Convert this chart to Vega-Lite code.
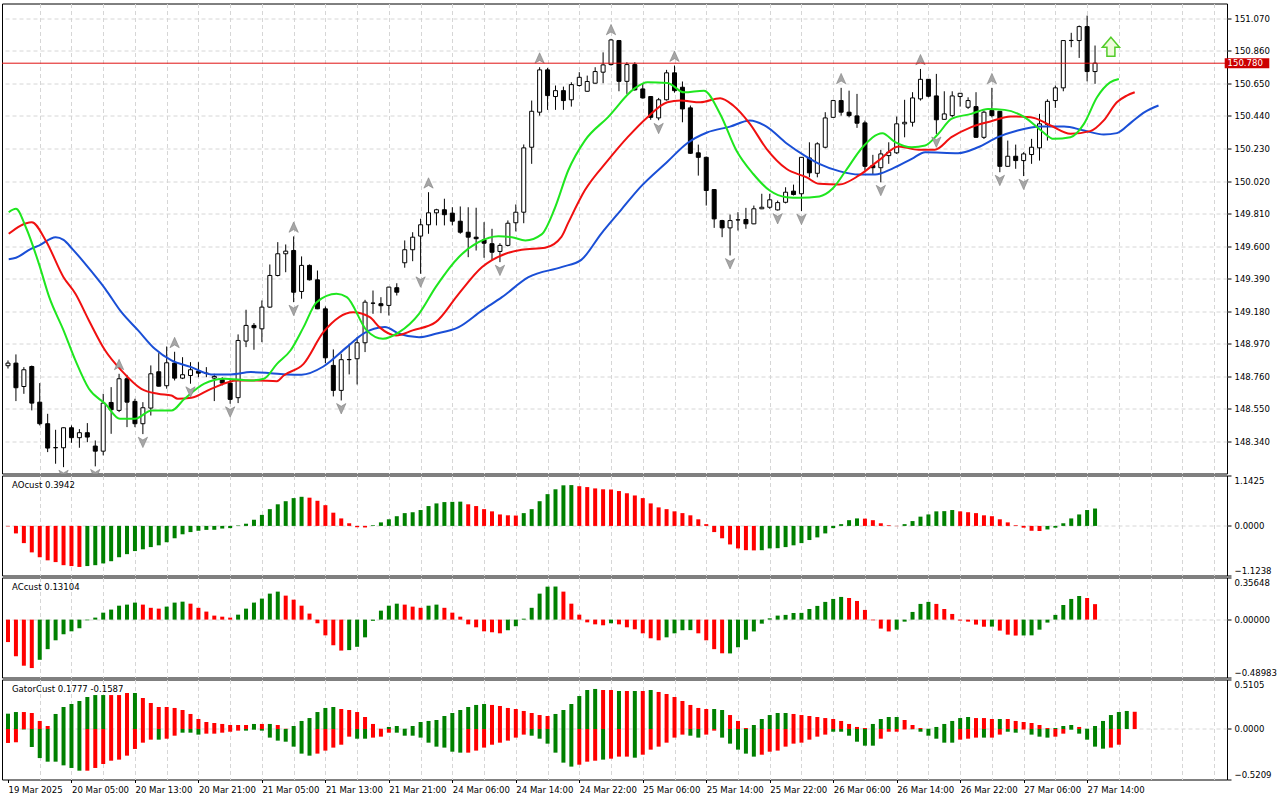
{
  "$schema": "https://vega.github.io/schema/vega-lite/v6.json",
  "background": "white",
  "padding": {"left": 1, "top": 2.5, "right": 0, "bottom": 0},
  "spacing": 0,
  "datasets": {
    "candles": [
      {"i":0,"o":148.829,"h":148.863,"l":148.811,"c":148.846},
      {"i":1,"o":148.846,"h":148.902,"l":148.601,"c":148.687},
      {"i":2,"o":148.695,"h":148.820,"l":148.648,"c":148.803},
      {"i":3,"o":148.824,"h":148.830,"l":148.541,"c":148.588},
      {"i":4,"o":148.594,"h":148.717,"l":148.444,"c":148.455},
      {"i":5,"o":148.455,"h":148.519,"l":148.272,"c":148.298},
      {"i":6,"o":148.301,"h":148.416,"l":148.197,"c":148.300},
      {"i":7,"o":148.300,"h":148.431,"l":148.175,"c":148.429},
      {"i":8,"o":148.429,"h":148.444,"l":148.332,"c":148.365},
      {"i":9,"o":148.365,"h":148.420,"l":148.300,"c":148.397},
      {"i":10,"o":148.397,"h":148.459,"l":148.336,"c":148.369},
      {"i":11,"o":148.311,"h":148.347,"l":148.180,"c":148.278},
      {"i":12,"o":148.278,"h":148.648,"l":148.251,"c":148.588},
      {"i":13,"o":148.592,"h":148.691,"l":148.390,"c":148.545},
      {"i":14,"o":148.541,"h":148.777,"l":148.530,"c":148.745},
      {"i":15,"o":148.745,"h":148.770,"l":148.433,"c":148.594},
      {"i":16,"o":148.599,"h":148.616,"l":148.433,"c":148.455},
      {"i":17,"o":148.455,"h":148.594,"l":148.388,"c":148.558},
      {"i":18,"o":148.556,"h":148.831,"l":148.508,"c":148.777},
      {"i":19,"o":148.790,"h":148.910,"l":148.695,"c":148.697},
      {"i":20,"o":148.700,"h":148.953,"l":148.681,"c":148.848},
      {"i":21,"o":148.846,"h":148.919,"l":148.734,"c":148.749},
      {"i":22,"o":148.749,"h":148.884,"l":148.743,"c":148.771},
      {"i":23,"o":148.766,"h":148.852,"l":148.713,"c":148.803},
      {"i":24,"o":148.794,"h":148.852,"l":148.755,"c":148.781},
      {"i":25,"o":148.781,"h":148.820,"l":148.755,"c":148.780},
      {"i":26,"o":148.749,"h":148.777,"l":148.601,"c":148.760},
      {"i":27,"o":148.739,"h":148.755,"l":148.702,"c":148.717},
      {"i":28,"o":148.717,"h":148.739,"l":148.584,"c":148.612},
      {"i":29,"o":148.623,"h":149.031,"l":148.588,"c":148.992},
      {"i":30,"o":148.988,"h":149.190,"l":148.949,"c":149.089},
      {"i":31,"o":149.089,"h":149.104,"l":148.932,"c":149.074},
      {"i":32,"o":149.067,"h":149.250,"l":148.981,"c":149.207},
      {"i":33,"o":149.207,"h":149.482,"l":149.203,"c":149.411},
      {"i":34,"o":149.411,"h":149.626,"l":149.405,"c":149.551},
      {"i":35,"o":149.551,"h":149.611,"l":149.432,"c":149.568},
      {"i":36,"o":149.572,"h":149.663,"l":149.239,"c":149.303},
      {"i":37,"o":149.308,"h":149.534,"l":149.261,"c":149.476},
      {"i":38,"o":149.476,"h":149.482,"l":149.379,"c":149.383},
      {"i":39,"o":149.383,"h":149.443,"l":149.194,"c":149.196},
      {"i":40,"o":149.196,"h":149.211,"l":148.846,"c":148.880},
      {"i":41,"o":148.831,"h":148.934,"l":148.631,"c":148.670},
      {"i":42,"o":148.670,"h":148.906,"l":148.605,"c":148.868},
      {"i":43,"o":148.868,"h":148.971,"l":148.773,"c":148.869},
      {"i":44,"o":148.874,"h":149.013,"l":148.708,"c":148.977},
      {"i":45,"o":148.977,"h":149.254,"l":148.917,"c":149.239},
      {"i":46,"o":149.233,"h":149.314,"l":149.164,"c":149.232},
      {"i":47,"o":149.229,"h":149.271,"l":149.168,"c":149.216},
      {"i":48,"o":149.218,"h":149.338,"l":149.153,"c":149.336},
      {"i":49,"o":149.332,"h":149.361,"l":149.282,"c":149.303},
      {"i":50,"o":149.493,"h":149.637,"l":149.461,"c":149.577},
      {"i":51,"o":149.577,"h":149.690,"l":149.503,"c":149.658},
      {"i":52,"o":149.665,"h":149.777,"l":149.422,"c":149.738},
      {"i":53,"o":149.738,"h":149.948,"l":149.680,"c":149.815},
      {"i":54,"o":149.815,"h":149.841,"l":149.734,"c":149.835},
      {"i":55,"o":149.835,"h":149.906,"l":149.734,"c":149.803},
      {"i":56,"o":149.813,"h":149.851,"l":149.734,"c":149.761},
      {"i":57,"o":149.761,"h":149.856,"l":149.680,"c":149.690},
      {"i":58,"o":149.690,"h":149.851,"l":149.529,"c":149.658},
      {"i":59,"o":149.658,"h":149.848,"l":149.572,"c":149.648},
      {"i":60,"o":149.641,"h":149.755,"l":149.525,"c":149.619},
      {"i":61,"o":149.616,"h":149.712,"l":149.508,"c":149.561},
      {"i":62,"o":149.566,"h":149.619,"l":149.497,"c":149.605},
      {"i":63,"o":149.605,"h":149.766,"l":149.598,"c":149.748},
      {"i":64,"o":149.751,"h":149.869,"l":149.695,"c":149.819},
      {"i":65,"o":149.819,"h":150.256,"l":149.748,"c":150.234},
      {"i":66,"o":150.238,"h":150.539,"l":150.131,"c":150.470},
      {"i":67,"o":150.464,"h":150.754,"l":150.442,"c":150.737},
      {"i":68,"o":150.737,"h":150.750,"l":150.479,"c":150.571},
      {"i":69,"o":150.565,"h":150.636,"l":150.479,"c":150.603},
      {"i":70,"o":150.603,"h":150.629,"l":150.479,"c":150.539},
      {"i":71,"o":150.544,"h":150.657,"l":150.500,"c":150.642},
      {"i":72,"o":150.636,"h":150.722,"l":150.629,"c":150.689},
      {"i":73,"o":150.599,"h":150.700,"l":150.597,"c":150.662},
      {"i":74,"o":150.651,"h":150.754,"l":150.649,"c":150.726},
      {"i":75,"o":150.722,"h":150.850,"l":150.651,"c":150.769},
      {"i":76,"o":150.771,"h":150.937,"l":150.765,"c":150.930},
      {"i":77,"o":150.926,"h":150.930,"l":150.599,"c":150.663},
      {"i":78,"o":150.663,"h":150.786,"l":150.582,"c":150.771},
      {"i":79,"o":150.771,"h":150.786,"l":150.603,"c":150.608},
      {"i":80,"o":150.614,"h":150.647,"l":150.552,"c":150.556},
      {"i":81,"o":150.565,"h":150.567,"l":150.415,"c":150.431},
      {"i":82,"o":150.427,"h":150.556,"l":150.412,"c":150.544},
      {"i":83,"o":150.544,"h":150.737,"l":150.539,"c":150.718},
      {"i":84,"o":150.718,"h":150.765,"l":150.590,"c":150.603},
      {"i":85,"o":150.625,"h":150.662,"l":150.399,"c":150.485},
      {"i":86,"o":150.492,"h":150.507,"l":150.195,"c":150.199},
      {"i":87,"o":150.202,"h":150.255,"l":150.055,"c":150.173},
      {"i":88,"o":150.173,"h":150.178,"l":149.862,"c":149.959},
      {"i":89,"o":149.965,"h":149.967,"l":149.718,"c":149.776},
      {"i":90,"o":149.765,"h":149.770,"l":149.658,"c":149.718},
      {"i":91,"o":149.718,"h":149.804,"l":149.540,"c":149.765},
      {"i":92,"o":149.770,"h":149.819,"l":149.701,"c":149.769},
      {"i":93,"o":149.772,"h":149.847,"l":149.712,"c":149.744},
      {"i":94,"o":149.744,"h":149.862,"l":149.742,"c":149.841},
      {"i":95,"o":149.841,"h":149.938,"l":149.839,"c":149.851},
      {"i":96,"o":149.851,"h":149.938,"l":149.841,"c":149.899},
      {"i":97,"o":149.834,"h":149.894,"l":149.830,"c":149.881},
      {"i":98,"o":149.883,"h":149.980,"l":149.876,"c":149.948},
      {"i":99,"o":149.955,"h":149.997,"l":149.927,"c":149.933},
      {"i":100,"o":149.938,"h":150.175,"l":149.826,"c":150.173},
      {"i":101,"o":150.169,"h":150.270,"l":150.044,"c":150.073},
      {"i":102,"o":150.070,"h":150.270,"l":150.044,"c":150.260},
      {"i":103,"o":150.238,"h":150.464,"l":150.231,"c":150.427},
      {"i":104,"o":150.431,"h":150.544,"l":150.427,"c":150.539},
      {"i":105,"o":150.539,"h":150.621,"l":150.442,"c":150.464},
      {"i":106,"o":150.464,"h":150.603,"l":150.431,"c":150.442},
      {"i":107,"o":150.440,"h":150.582,"l":150.363,"c":150.393},
      {"i":108,"o":150.395,"h":150.410,"l":150.088,"c":150.115},
      {"i":109,"o":150.120,"h":150.189,"l":150.062,"c":150.106},
      {"i":110,"o":150.106,"h":150.221,"l":150.012,"c":150.195},
      {"i":111,"o":150.184,"h":150.270,"l":150.131,"c":150.206},
      {"i":112,"o":150.202,"h":150.436,"l":150.195,"c":150.389},
      {"i":113,"o":150.389,"h":150.544,"l":150.302,"c":150.399},
      {"i":114,"o":150.399,"h":150.593,"l":150.371,"c":150.556},
      {"i":115,"o":150.550,"h":150.743,"l":150.539,"c":150.676},
      {"i":116,"o":150.676,"h":150.678,"l":150.560,"c":150.567},
      {"i":117,"o":150.569,"h":150.711,"l":150.324,"c":150.415},
      {"i":118,"o":150.418,"h":150.599,"l":150.416,"c":150.453},
      {"i":119,"o":150.442,"h":150.599,"l":150.431,"c":150.569},
      {"i":120,"o":150.565,"h":150.588,"l":150.500,"c":150.586},
      {"i":121,"o":150.496,"h":150.560,"l":150.485,"c":150.539},
      {"i":122,"o":150.500,"h":150.593,"l":150.300,"c":150.302},
      {"i":123,"o":150.302,"h":150.475,"l":150.291,"c":150.464},
      {"i":124,"o":150.475,"h":150.621,"l":150.431,"c":150.442},
      {"i":125,"o":150.470,"h":150.472,"l":150.077,"c":150.115},
      {"i":126,"o":150.115,"h":150.281,"l":150.113,"c":150.180},
      {"i":127,"o":150.180,"h":150.255,"l":150.099,"c":150.152},
      {"i":128,"o":150.152,"h":150.206,"l":150.052,"c":150.195},
      {"i":129,"o":150.191,"h":150.292,"l":150.131,"c":150.238},
      {"i":130,"o":150.234,"h":150.453,"l":150.152,"c":150.389},
      {"i":131,"o":150.384,"h":150.547,"l":150.281,"c":150.534},
      {"i":132,"o":150.539,"h":150.636,"l":150.492,"c":150.621},
      {"i":133,"o":150.621,"h":150.928,"l":150.599,"c":150.926},
      {"i":134,"o":150.926,"h":150.976,"l":150.883,"c":150.927},
      {"i":135,"o":150.926,"h":151.023,"l":150.814,"c":151.016},
      {"i":136,"o":151.016,"h":151.087,"l":150.663,"c":150.726},
      {"i":137,"o":150.726,"h":150.894,"l":150.647,"c":150.780}
    ],
    "alligator": [
      {"s":"jaw","i":0.09,"v":149.516},{"s":"jaw","i":1,"v":149.525},{"s":"jaw","i":2.9,"v":149.583},{"s":"jaw","i":3.9,"v":149.604},
      {"s":"jaw","i":6,"v":149.658},{"s":"jaw","i":7,"v":149.641},{"s":"jaw","i":8.1,"v":149.583},{"s":"jaw","i":10.6,"v":149.432},
      {"s":"jaw","i":12.25,"v":149.325},{"s":"jaw","i":14.3,"v":149.174},{"s":"jaw","i":16.4,"v":149.057},{"s":"jaw","i":18.5,"v":148.938},
      {"s":"jaw","i":20.6,"v":148.863},{"s":"jaw","i":23.1,"v":148.820},{"s":"jaw","i":25.6,"v":148.773},{"s":"jaw","i":28.1,"v":148.773},
      {"s":"jaw","i":30.6,"v":148.788},{"s":"jaw","i":33.1,"v":148.781},{"s":"jaw","i":35.2,"v":148.773},{"s":"jaw","i":37,"v":148.771},
      {"s":"jaw","i":39.75,"v":148.824},{"s":"jaw","i":42.7,"v":148.949},{"s":"jaw","i":44.75,"v":149.035},{"s":"jaw","i":47.5,"v":149.078},
      {"s":"jaw","i":49.3,"v":149.035},{"s":"jaw","i":51.8,"v":149.013},{"s":"jaw","i":53.9,"v":149.035},{"s":"jaw","i":56.8,"v":149.078},
      {"s":"jaw","i":59.75,"v":149.186},{"s":"jaw","i":62.25,"v":149.271},{"s":"jaw","i":65.6,"v":149.400},{"s":"jaw","i":69.75,"v":149.465},
      {"s":"jaw","i":72.25,"v":149.512},{"s":"jaw","i":74.75,"v":149.680},{"s":"jaw","i":77.25,"v":149.833},{"s":"jaw","i":79.75,"v":149.984},
      {"s":"jaw","i":83.1,"v":150.145},{"s":"jaw","i":85.6,"v":150.264},{"s":"jaw","i":88.1,"v":150.333},{"s":"jaw","i":91,"v":150.371},
      {"s":"jaw","i":93.5,"v":150.410},{"s":"jaw","i":95.6,"v":150.371},{"s":"jaw","i":98.1,"v":150.264},{"s":"jaw","i":100.6,"v":150.178},
      {"s":"jaw","i":102.25,"v":150.131},{"s":"jaw","i":104.75,"v":150.084},{"s":"jaw","i":107.25,"v":150.062},{"s":"jaw","i":109.3,"v":150.062},
      {"s":"jaw","i":111.4,"v":150.099},{"s":"jaw","i":113.9,"v":150.163},{"s":"jaw","i":115.6,"v":150.206},{"s":"jaw","i":119.75,"v":150.200},
      {"s":"jaw","i":122.25,"v":150.238},{"s":"jaw","i":124.75,"v":150.303},{"s":"jaw","i":127.25,"v":150.346},{"s":"jaw","i":130.2,"v":150.372},
      {"s":"jaw","i":133.1,"v":150.372},{"s":"jaw","i":135.6,"v":150.346},{"s":"jaw","i":138.1,"v":150.320},{"s":"jaw","i":139.75,"v":150.329},
      {"s":"jaw","i":141.6,"v":150.400},{"s":"jaw","i":143.25,"v":150.464},{"s":"jaw","i":145,"v":150.507},
      {"s":"teeth","i":0.09,"v":149.680},{"s":"teeth","i":3,"v":149.755},{"s":"teeth","i":4.75,"v":149.637},{"s":"teeth","i":7,"v":149.400},
      {"s":"teeth","i":8.5,"v":149.293},{"s":"teeth","i":10.2,"v":149.121},{"s":"teeth","i":12.25,"v":148.927},{"s":"teeth","i":14.3,"v":148.798},
      {"s":"teeth","i":16.8,"v":148.680},{"s":"teeth","i":18.9,"v":148.648},{"s":"teeth","i":20.6,"v":148.637},{"s":"teeth","i":21.4,"v":148.616},
      {"s":"teeth","i":23.1,"v":148.622},{"s":"teeth","i":25.6,"v":148.680},{"s":"teeth","i":28.9,"v":148.734},{"s":"teeth","i":31.4,"v":148.734},
      {"s":"teeth","i":33.9,"v":148.729},{"s":"teeth","i":34.75,"v":148.766},{"s":"teeth","i":37.25,"v":148.841},{"s":"teeth","i":39.75,"v":149.045},
      {"s":"teeth","i":43.5,"v":149.174},{"s":"teeth","i":45.6,"v":149.142},{"s":"teeth","i":46.8,"v":149.078},{"s":"teeth","i":48.9,"v":149.024},
      {"s":"teeth","i":51,"v":149.057},{"s":"teeth","i":53.9,"v":149.110},{"s":"teeth","i":56.8,"v":149.293},{"s":"teeth","i":59.75,"v":149.465},
      {"s":"teeth","i":62.7,"v":149.551},{"s":"teeth","i":64.75,"v":149.577},{"s":"teeth","i":67.7,"v":149.590},{"s":"teeth","i":69.75,"v":149.660},
      {"s":"teeth","i":70.6,"v":149.750},{"s":"teeth","i":72.7,"v":149.960},{"s":"teeth","i":75.6,"v":150.153},{"s":"teeth","i":78.1,"v":150.303},
      {"s":"teeth","i":80.6,"v":150.432},{"s":"teeth","i":83.1,"v":150.528},{"s":"teeth","i":84.75,"v":150.539},{"s":"teeth","i":87.25,"v":150.528},
      {"s":"teeth","i":89.75,"v":150.554},{"s":"teeth","i":91.4,"v":150.507},{"s":"teeth","i":93.5,"v":150.389},{"s":"teeth","i":95.6,"v":150.228},
      {"s":"teeth","i":98.1,"v":150.099},{"s":"teeth","i":100.6,"v":150.045},{"s":"teeth","i":102.25,"v":150.002},{"s":"teeth","i":104.75,"v":149.998},
      {"s":"teeth","i":107.25,"v":150.056},{"s":"teeth","i":109.75,"v":150.153},{"s":"teeth","i":112.25,"v":150.243},{"s":"teeth","i":114.75,"v":150.222},
      {"s":"teeth","i":116.8,"v":150.222},{"s":"teeth","i":118.9,"v":150.303},{"s":"teeth","i":121.4,"v":150.368},{"s":"teeth","i":123.9,"v":150.406},
      {"s":"teeth","i":126.4,"v":150.436},{"s":"teeth","i":128.9,"v":150.432},{"s":"teeth","i":131.4,"v":150.378},{"s":"teeth","i":133.9,"v":150.325},
      {"s":"teeth","i":136.4,"v":150.342},{"s":"teeth","i":138.1,"v":150.411},{"s":"teeth","i":139.75,"v":150.528},{"s":"teeth","i":141,"v":150.571},
      {"s":"teeth","i":142,"v":150.593},
      {"s":"lips","i":0.09,"v":149.819},{"s":"lips","i":1,"v":149.841},{"s":"lips","i":2.25,"v":149.722},{"s":"lips","i":3.9,"v":149.486},
      {"s":"lips","i":5.2,"v":149.271},{"s":"lips","i":7,"v":149.057},{"s":"lips","i":8.5,"v":148.863},{"s":"lips","i":10.2,"v":148.680},
      {"s":"lips","i":12.25,"v":148.584},{"s":"lips","i":14.1,"v":148.487},{"s":"lips","i":16,"v":148.487},{"s":"lips","i":18.1,"v":148.540},
      {"s":"lips","i":20.6,"v":148.540},{"s":"lips","i":22.25,"v":148.616},{"s":"lips","i":24.75,"v":148.713},{"s":"lips","i":27.25,"v":148.745},
      {"s":"lips","i":30.6,"v":148.734},{"s":"lips","i":32.25,"v":148.745},{"s":"lips","i":33.9,"v":148.841},{"s":"lips","i":35.6,"v":148.927},
      {"s":"lips","i":37.25,"v":149.078},{"s":"lips","i":38.9,"v":149.239},{"s":"lips","i":41.4,"v":149.293},{"s":"lips","i":42.7,"v":149.271},
      {"s":"lips","i":45.2,"v":149.057},{"s":"lips","i":47.25,"v":149.003},{"s":"lips","i":49.3,"v":149.046},{"s":"lips","i":51.8,"v":149.164},
      {"s":"lips","i":53.9,"v":149.336},{"s":"lips","i":56.8,"v":149.529},{"s":"lips","i":59.3,"v":149.626},{"s":"lips","i":61.8,"v":149.664},
      {"s":"lips","i":63.5,"v":149.658},{"s":"lips","i":65.2,"v":149.637},{"s":"lips","i":67.25,"v":149.676},{"s":"lips","i":68.9,"v":149.843},
      {"s":"lips","i":70.6,"v":150.088},{"s":"lips","i":72.7,"v":150.281},{"s":"lips","i":75.6,"v":150.431},{"s":"lips","i":78.9,"v":150.614},
      {"s":"lips","i":80.6,"v":150.657},{"s":"lips","i":83.1,"v":150.653},{"s":"lips","i":85.2,"v":150.592},{"s":"lips","i":87.7,"v":150.603},
      {"s":"lips","i":89.75,"v":150.453},{"s":"lips","i":91.8,"v":150.217},{"s":"lips","i":93.9,"v":150.067},{"s":"lips","i":96,"v":149.959},
      {"s":"lips","i":98.1,"v":149.916},{"s":"lips","i":99.75,"v":149.912},{"s":"lips","i":102.25,"v":149.921},{"s":"lips","i":103.9,"v":149.970},
      {"s":"lips","i":105.6,"v":150.088},{"s":"lips","i":107.7,"v":150.238},{"s":"lips","i":110.2,"v":150.329},{"s":"lips","i":111.8,"v":150.271},
      {"s":"lips","i":113.9,"v":150.238},{"s":"lips","i":115.6,"v":150.249},{"s":"lips","i":117.25,"v":150.325},{"s":"lips","i":118.9,"v":150.421},
      {"s":"lips","i":121.4,"v":150.453},{"s":"lips","i":123.5,"v":150.485},{"s":"lips","i":125.6,"v":150.479},{"s":"lips","i":128.1,"v":150.432},
      {"s":"lips","i":130.2,"v":150.346},{"s":"lips","i":131.8,"v":150.292},{"s":"lips","i":133.9,"v":150.303},{"s":"lips","i":135.6,"v":150.389},
      {"s":"lips","i":137.25,"v":150.560},{"s":"lips","i":138.9,"v":150.656},{"s":"lips","i":140,"v":150.678}
    ],
    "fractals": [
      {"i":14,"p":148.777,"d":"up"},{"i":21,"p":148.919,"d":"up"},{"i":36,"p":149.663,"d":"up"},{"i":53,"p":149.948,"d":"up"},
      {"i":67,"p":150.754,"d":"up"},{"i":76,"p":150.937,"d":"up"},{"i":84,"p":150.765,"d":"up"},{"i":105,"p":150.621,"d":"up"},
      {"i":115,"p":150.743,"d":"up"},{"i":124,"p":150.621,"d":"up"},
      {"i":7,"p":148.175,"d":"down"},{"i":11,"p":148.180,"d":"down"},{"i":17,"p":148.388,"d":"down"},{"i":23,"p":148.713,"d":"down"},
      {"i":28,"p":148.584,"d":"down"},{"i":36,"p":149.239,"d":"down"},{"i":42,"p":148.605,"d":"down"},{"i":52,"p":149.422,"d":"down"},
      {"i":62,"p":149.497,"d":"down"},{"i":82,"p":150.412,"d":"down"},{"i":91,"p":149.540,"d":"down"},{"i":97,"p":149.830,"d":"down"},
      {"i":100,"p":149.826,"d":"down"},{"i":110,"p":150.012,"d":"down"},{"i":117,"p":150.324,"d":"down"},{"i":125,"p":150.077,"d":"down"},
      {"i":128,"p":150.052,"d":"down"}
    ],
    "ao": [
      {"i":0,"v":-0.01,"c":"r"},{"i":1,"v":-0.17,"c":"r"},{"i":2,"v":-0.39,"c":"r"},{"i":3,"v":-0.6,"c":"r"},{"i":4,"v":-0.71,"c":"r"},
      {"i":5,"v":-0.78,"c":"r"},{"i":6,"v":-0.82,"c":"r"},{"i":7,"v":-0.89,"c":"r"},{"i":8,"v":-0.91,"c":"r"},{"i":9,"v":-0.93,"c":"r"},
      {"i":10,"v":-0.91,"c":"g"},{"i":11,"v":-0.89,"c":"g"},{"i":12,"v":-0.85,"c":"g"},{"i":13,"v":-0.8,"c":"g"},{"i":14,"v":-0.71,"c":"g"},
      {"i":15,"v":-0.64,"c":"g"},{"i":16,"v":-0.57,"c":"g"},{"i":17,"v":-0.53,"c":"g"},{"i":18,"v":-0.48,"c":"g"},{"i":19,"v":-0.44,"c":"g"},
      {"i":20,"v":-0.37,"c":"g"},{"i":21,"v":-0.28,"c":"g"},{"i":22,"v":-0.19,"c":"g"},{"i":23,"v":-0.14,"c":"g"},{"i":24,"v":-0.11,"c":"g"},
      {"i":25,"v":-0.09,"c":"g"},{"i":26,"v":-0.088,"c":"g"},{"i":27,"v":-0.06,"c":"g"},{"i":28,"v":-0.05,"c":"g"},{"i":29,"v":0.01,"c":"g"},
      {"i":30,"v":0.05,"c":"g"},{"i":31,"v":0.14,"c":"g"},{"i":32,"v":0.25,"c":"g"},{"i":33,"v":0.38,"c":"g"},{"i":34,"v":0.49,"c":"g"},
      {"i":35,"v":0.56,"c":"g"},{"i":36,"v":0.63,"c":"g"},{"i":37,"v":0.66,"c":"g"},{"i":38,"v":0.64,"c":"r"},{"i":39,"v":0.57,"c":"r"},
      {"i":40,"v":0.47,"c":"r"},{"i":41,"v":0.3,"c":"r"},{"i":42,"v":0.17,"c":"r"},{"i":43,"v":0.06,"c":"r"},{"i":44,"v":-0.03,"c":"r"},
      {"i":45,"v":-0.035,"c":"r"},{"i":46,"v":0.015,"c":"g"},{"i":47,"v":0.08,"c":"g"},{"i":48,"v":0.15,"c":"g"},{"i":49,"v":0.22,"c":"g"},
      {"i":50,"v":0.29,"c":"g"},{"i":51,"v":0.31,"c":"g"},{"i":52,"v":0.36,"c":"g"},{"i":53,"v":0.45,"c":"g"},{"i":54,"v":0.51,"c":"g"},
      {"i":55,"v":0.54,"c":"g"},{"i":56,"v":0.545,"c":"g"},{"i":57,"v":0.55,"c":"g"},{"i":58,"v":0.49,"c":"r"},{"i":59,"v":0.45,"c":"r"},
      {"i":60,"v":0.38,"c":"r"},{"i":61,"v":0.33,"c":"r"},{"i":62,"v":0.26,"c":"r"},{"i":63,"v":0.24,"c":"r"},{"i":64,"v":0.235,"c":"r"},
      {"i":65,"v":0.29,"c":"g"},{"i":66,"v":0.38,"c":"g"},{"i":67,"v":0.56,"c":"g"},{"i":68,"v":0.72,"c":"g"},{"i":69,"v":0.83,"c":"g"},
      {"i":70,"v":0.92,"c":"g"},{"i":71,"v":0.925,"c":"g"},{"i":72,"v":0.9,"c":"r"},{"i":73,"v":0.88,"c":"r"},{"i":74,"v":0.85,"c":"r"},
      {"i":75,"v":0.83,"c":"r"},{"i":76,"v":0.825,"c":"r"},{"i":77,"v":0.79,"c":"r"},{"i":78,"v":0.74,"c":"r"},{"i":79,"v":0.69,"c":"r"},
      {"i":80,"v":0.63,"c":"r"},{"i":81,"v":0.51,"c":"r"},{"i":82,"v":0.42,"c":"r"},{"i":83,"v":0.38,"c":"r"},{"i":84,"v":0.33,"c":"r"},
      {"i":85,"v":0.29,"c":"r"},{"i":86,"v":0.24,"c":"r"},{"i":87,"v":0.15,"c":"r"},{"i":88,"v":0.04,"c":"r"},{"i":89,"v":-0.14,"c":"r"},
      {"i":90,"v":-0.28,"c":"r"},{"i":91,"v":-0.42,"c":"r"},{"i":92,"v":-0.51,"c":"r"},{"i":93,"v":-0.55,"c":"r"},{"i":94,"v":-0.555,"c":"r"},
      {"i":95,"v":-0.55,"c":"g"},{"i":96,"v":-0.51,"c":"g"},{"i":97,"v":-0.505,"c":"g"},{"i":98,"v":-0.48,"c":"g"},{"i":99,"v":-0.44,"c":"g"},
      {"i":100,"v":-0.39,"c":"g"},{"i":101,"v":-0.32,"c":"g"},{"i":102,"v":-0.26,"c":"g"},{"i":103,"v":-0.17,"c":"g"},{"i":104,"v":-0.05,"c":"g"},
      {"i":105,"v":0.04,"c":"g"},{"i":106,"v":0.13,"c":"g"},{"i":107,"v":0.17,"c":"g"},{"i":108,"v":0.165,"c":"r"},{"i":109,"v":0.13,"c":"r"},
      {"i":110,"v":0.06,"c":"r"},{"i":111,"v":0.015,"c":"r"},{"i":112,"v":-0.005,"c":"r"},{"i":113,"v":0.04,"c":"g"},{"i":114,"v":0.11,"c":"g"},
      {"i":115,"v":0.21,"c":"g"},{"i":116,"v":0.26,"c":"g"},{"i":117,"v":0.33,"c":"g"},{"i":118,"v":0.335,"c":"g"},{"i":119,"v":0.36,"c":"g"},
      {"i":120,"v":0.33,"c":"r"},{"i":121,"v":0.31,"c":"r"},{"i":122,"v":0.29,"c":"r"},{"i":123,"v":0.24,"c":"r"},{"i":124,"v":0.22,"c":"r"},
      {"i":125,"v":0.15,"c":"r"},{"i":126,"v":0.08,"c":"r"},{"i":127,"v":0.015,"c":"r"},{"i":128,"v":-0.04,"c":"r"},{"i":129,"v":-0.11,"c":"r"},
      {"i":130,"v":-0.115,"c":"r"},{"i":131,"v":-0.08,"c":"g"},{"i":132,"v":-0.04,"c":"g"},{"i":133,"v":0.06,"c":"g"},{"i":134,"v":0.17,"c":"g"},
      {"i":135,"v":0.26,"c":"g"},{"i":136,"v":0.36,"c":"g"},{"i":137,"v":0.3942,"c":"g"}
    ],
    "ac": [
      {"i":0,"v":-0.19,"c":"r"},{"i":1,"v":-0.31,"c":"r"},{"i":2,"v":-0.39,"c":"r"},{"i":3,"v":-0.41,"c":"r"},{"i":4,"v":-0.34,"c":"g"},
      {"i":5,"v":-0.25,"c":"g"},{"i":6,"v":-0.175,"c":"g"},{"i":7,"v":-0.124,"c":"g"},{"i":8,"v":-0.099,"c":"g"},{"i":9,"v":-0.073,"c":"g"},
      {"i":10,"v":-0.006,"c":"g"},{"i":11,"v":0.017,"c":"g"},{"i":12,"v":0.059,"c":"g"},{"i":13,"v":0.085,"c":"g"},{"i":14,"v":0.118,"c":"g"},
      {"i":15,"v":0.127,"c":"g"},{"i":16,"v":0.144,"c":"g"},{"i":17,"v":0.127,"c":"r"},{"i":18,"v":0.1,"c":"r"},{"i":19,"v":0.093,"c":"r"},
      {"i":20,"v":0.11,"c":"g"},{"i":21,"v":0.144,"c":"g"},{"i":22,"v":0.152,"c":"g"},{"i":23,"v":0.135,"c":"r"},{"i":24,"v":0.1,"c":"r"},
      {"i":25,"v":0.068,"c":"r"},{"i":26,"v":0.034,"c":"r"},{"i":27,"v":0.025,"c":"r"},{"i":28,"v":0.017,"c":"r"},{"i":29,"v":0.042,"c":"g"},
      {"i":30,"v":0.093,"c":"g"},{"i":31,"v":0.144,"c":"g"},{"i":32,"v":0.178,"c":"g"},{"i":33,"v":0.22,"c":"g"},{"i":34,"v":0.237,"c":"g"},
      {"i":35,"v":0.203,"c":"r"},{"i":36,"v":0.169,"c":"r"},{"i":37,"v":0.118,"c":"r"},{"i":38,"v":0.051,"c":"r"},{"i":39,"v":-0.031,"c":"r"},
      {"i":40,"v":-0.133,"c":"r"},{"i":41,"v":-0.217,"c":"r"},{"i":42,"v":-0.262,"c":"r"},{"i":43,"v":-0.258,"c":"g"},{"i":44,"v":-0.23,"c":"g"},
      {"i":45,"v":-0.15,"c":"g"},{"i":46,"v":-0.01,"c":"g"},{"i":47,"v":0.076,"c":"g"},{"i":48,"v":0.118,"c":"g"},{"i":49,"v":0.135,"c":"g"},
      {"i":50,"v":0.127,"c":"r"},{"i":51,"v":0.11,"c":"r"},{"i":52,"v":0.1,"c":"r"},{"i":53,"v":0.118,"c":"g"},{"i":54,"v":0.127,"c":"g"},
      {"i":55,"v":0.1,"c":"r"},{"i":56,"v":0.059,"c":"r"},{"i":57,"v":0.025,"c":"r"},{"i":58,"v":-0.04,"c":"r"},{"i":59,"v":-0.065,"c":"r"},
      {"i":60,"v":-0.099,"c":"r"},{"i":61,"v":-0.107,"c":"r"},{"i":62,"v":-0.116,"c":"r"},{"i":63,"v":-0.09,"c":"g"},{"i":64,"v":-0.056,"c":"g"},
      {"i":65,"v":0.008,"c":"g"},{"i":66,"v":0.1,"c":"g"},{"i":67,"v":0.22,"c":"g"},{"i":68,"v":0.279,"c":"g"},{"i":69,"v":0.28,"c":"g"},
      {"i":70,"v":0.237,"c":"r"},{"i":71,"v":0.135,"c":"r"},{"i":72,"v":0.042,"c":"r"},{"i":73,"v":-0.023,"c":"r"},{"i":74,"v":-0.04,"c":"r"},
      {"i":75,"v":-0.048,"c":"r"},{"i":76,"v":-0.031,"c":"g"},{"i":77,"v":-0.04,"c":"r"},{"i":78,"v":-0.065,"c":"r"},{"i":79,"v":-0.082,"c":"r"},
      {"i":80,"v":-0.116,"c":"r"},{"i":81,"v":-0.158,"c":"r"},{"i":82,"v":-0.175,"c":"r"},{"i":83,"v":-0.15,"c":"g"},{"i":84,"v":-0.116,"c":"g"},
      {"i":85,"v":-0.09,"c":"g"},{"i":86,"v":-0.089,"c":"g"},{"i":87,"v":-0.116,"c":"r"},{"i":88,"v":-0.175,"c":"r"},{"i":89,"v":-0.25,"c":"r"},
      {"i":90,"v":-0.285,"c":"r"},{"i":91,"v":-0.286,"c":"g"},{"i":92,"v":-0.234,"c":"g"},{"i":93,"v":-0.17,"c":"g"},{"i":94,"v":-0.1,"c":"g"},
      {"i":95,"v":-0.034,"c":"g"},{"i":96,"v":0.011,"c":"g"},{"i":97,"v":0.034,"c":"g"},{"i":98,"v":0.04,"c":"g"},{"i":99,"v":0.056,"c":"g"},
      {"i":100,"v":0.057,"c":"g"},{"i":101,"v":0.09,"c":"g"},{"i":102,"v":0.116,"c":"g"},{"i":103,"v":0.15,"c":"g"},{"i":104,"v":0.175,"c":"g"},
      {"i":105,"v":0.192,"c":"g"},{"i":106,"v":0.183,"c":"r"},{"i":107,"v":0.158,"c":"r"},{"i":108,"v":0.082,"c":"r"},{"i":109,"v":-0.006,"c":"r"},
      {"i":110,"v":-0.076,"c":"r"},{"i":111,"v":-0.1,"c":"r"},{"i":112,"v":-0.085,"c":"g"},{"i":113,"v":-0.017,"c":"g"},{"i":114,"v":0.065,"c":"g"},
      {"i":115,"v":0.133,"c":"g"},{"i":116,"v":0.15,"c":"g"},{"i":117,"v":0.133,"c":"r"},{"i":118,"v":0.09,"c":"r"},{"i":119,"v":0.048,"c":"r"},
      {"i":120,"v":-0.008,"c":"r"},{"i":121,"v":-0.017,"c":"r"},{"i":122,"v":-0.042,"c":"r"},{"i":123,"v":-0.06,"c":"r"},{"i":124,"v":-0.059,"c":"g"},
      {"i":125,"v":-0.093,"c":"r"},{"i":126,"v":-0.127,"c":"r"},{"i":127,"v":-0.135,"c":"r"},{"i":128,"v":-0.134,"c":"g"},{"i":129,"v":-0.133,"c":"g"},
      {"i":130,"v":-0.085,"c":"g"},{"i":131,"v":-0.025,"c":"g"},{"i":132,"v":0.04,"c":"g"},{"i":133,"v":0.124,"c":"g"},{"i":134,"v":0.175,"c":"g"},
      {"i":135,"v":0.2,"c":"g"},{"i":136,"v":0.183,"c":"r"},{"i":137,"v":0.131,"c":"r"}
    ],
    "gator": [
      {"i":0,"u":0.158,"uc":"g","l":-0.144,"lc":"r"},{"i":1,"u":0.175,"uc":"g","l":-0.137,"lc":"r"},{"i":2,"u":0.175,"uc":"r","l":-0.005,"lc":"g"},
      {"i":3,"u":0.165,"uc":"r","l":-0.186,"lc":"g"},{"i":4,"u":0.083,"uc":"r","l":-0.3,"lc":"g"},{"i":5,"u":0.031,"uc":"r","l":-0.337,"lc":"g"},
      {"i":6,"u":0.155,"uc":"g","l":-0.337,"lc":"g"},{"i":7,"u":0.227,"uc":"g","l":-0.375,"lc":"g"},{"i":8,"u":0.258,"uc":"g","l":-0.402,"lc":"g"},
      {"i":9,"u":0.289,"uc":"g","l":-0.43,"lc":"g"},{"i":10,"u":0.33,"uc":"g","l":-0.43,"lc":"r"},{"i":11,"u":0.35,"uc":"g","l":-0.402,"lc":"r"},
      {"i":12,"u":0.35,"uc":"g","l":-0.361,"lc":"r"},{"i":13,"u":0.35,"uc":"r","l":-0.327,"lc":"r"},{"i":14,"u":0.35,"uc":"r","l":-0.316,"lc":"r"},
      {"i":15,"u":0.371,"uc":"r","l":-0.275,"lc":"r"},{"i":16,"u":0.371,"uc":"g","l":-0.206,"lc":"r"},{"i":17,"u":0.32,"uc":"r","l":-0.141,"lc":"r"},
      {"i":18,"u":0.268,"uc":"r","l":-0.11,"lc":"r"},{"i":19,"u":0.227,"uc":"r","l":-0.11,"lc":"g"},{"i":20,"u":0.227,"uc":"r","l":-0.1,"lc":"r"},
      {"i":21,"u":0.217,"uc":"r","l":-0.069,"lc":"r"},{"i":22,"u":0.196,"uc":"r","l":-0.038,"lc":"g"},{"i":23,"u":0.155,"uc":"r","l":-0.038,"lc":"g"},
      {"i":24,"u":0.103,"uc":"r","l":-0.058,"lc":"g"},{"i":25,"u":0.072,"uc":"r","l":-0.048,"lc":"r"},{"i":26,"u":0.062,"uc":"r","l":-0.048,"lc":"r"},
      {"i":27,"u":0.052,"uc":"r","l":-0.038,"lc":"r"},{"i":28,"u":0.041,"uc":"r","l":-0.028,"lc":"r"},{"i":29,"u":0.041,"uc":"r","l":-0.017,"lc":"r"},
      {"i":30,"u":0.041,"uc":"r","l":-0.017,"lc":"g"},{"i":31,"u":0.052,"uc":"g","l":-0.007,"lc":"g"},{"i":32,"u":0.052,"uc":"r","l":-0.017,"lc":"g"},
      {"i":33,"u":0.052,"uc":"g","l":-0.089,"lc":"g"},{"i":34,"u":0.041,"uc":"r","l":-0.12,"lc":"g"},{"i":35,"u":0.003,"uc":"r","l":-0.131,"lc":"g"},
      {"i":36,"u":0.031,"uc":"g","l":-0.182,"lc":"g"},{"i":37,"u":0.083,"uc":"g","l":-0.254,"lc":"g"},{"i":38,"u":0.113,"uc":"g","l":-0.275,"lc":"g"},
      {"i":39,"u":0.175,"uc":"g","l":-0.254,"lc":"r"},{"i":40,"u":0.217,"uc":"g","l":-0.223,"lc":"r"},{"i":41,"u":0.227,"uc":"g","l":-0.192,"lc":"r"},
      {"i":42,"u":0.206,"uc":"r","l":-0.162,"lc":"r"},{"i":43,"u":0.196,"uc":"r","l":-0.079,"lc":"r"},{"i":44,"u":0.175,"uc":"r","l":-0.1,"lc":"g"},
      {"i":45,"u":0.124,"uc":"r","l":-0.1,"lc":"g"},{"i":46,"u":0.052,"uc":"r","l":-0.089,"lc":"r"},{"i":47,"u":0.003,"uc":"r","l":-0.079,"lc":"r"},
      {"i":48,"u":0.021,"uc":"g","l":-0.038,"lc":"r"},{"i":49,"u":0.031,"uc":"g","l":-0.038,"lc":"g"},{"i":50,"u":0.003,"uc":"g","l":-0.069,"lc":"g"},
      {"i":51,"u":0.031,"uc":"g","l":-0.069,"lc":"g"},{"i":52,"u":0.072,"uc":"g","l":-0.089,"lc":"g"},{"i":53,"u":0.083,"uc":"g","l":-0.141,"lc":"g"},
      {"i":54,"u":0.093,"uc":"g","l":-0.182,"lc":"g"},{"i":55,"u":0.134,"uc":"g","l":-0.192,"lc":"g"},{"i":56,"u":0.165,"uc":"g","l":-0.234,"lc":"g"},
      {"i":57,"u":0.196,"uc":"g","l":-0.244,"lc":"g"},{"i":58,"u":0.227,"uc":"g","l":-0.244,"lc":"r"},{"i":59,"u":0.248,"uc":"g","l":-0.223,"lc":"r"},
      {"i":60,"u":0.258,"uc":"g","l":-0.192,"lc":"r"},{"i":61,"u":0.248,"uc":"r","l":-0.162,"lc":"r"},{"i":62,"u":0.237,"uc":"r","l":-0.141,"lc":"r"},
      {"i":63,"u":0.217,"uc":"r","l":-0.12,"lc":"r"},{"i":64,"u":0.206,"uc":"r","l":-0.089,"lc":"r"},{"i":65,"u":0.186,"uc":"r","l":-0.058,"lc":"r"},
      {"i":66,"u":0.165,"uc":"r","l":-0.069,"lc":"g"},{"i":67,"u":0.144,"uc":"r","l":-0.1,"lc":"g"},{"i":68,"u":0.134,"uc":"r","l":-0.151,"lc":"g"},
      {"i":69,"u":0.155,"uc":"g","l":-0.244,"lc":"g"},{"i":70,"u":0.196,"uc":"g","l":-0.347,"lc":"g"},{"i":71,"u":0.258,"uc":"g","l":-0.388,"lc":"g"},
      {"i":72,"u":0.34,"uc":"g","l":-0.368,"lc":"r"},{"i":73,"u":0.402,"uc":"g","l":-0.337,"lc":"r"},{"i":74,"u":0.413,"uc":"g","l":-0.327,"lc":"r"},
      {"i":75,"u":0.402,"uc":"r","l":-0.316,"lc":"g"},{"i":76,"u":0.402,"uc":"r","l":-0.306,"lc":"r"},{"i":77,"u":0.392,"uc":"g","l":-0.285,"lc":"r"},
      {"i":78,"u":0.392,"uc":"r","l":-0.285,"lc":"r"},{"i":79,"u":0.392,"uc":"g","l":-0.296,"lc":"g"},{"i":80,"u":0.392,"uc":"r","l":-0.265,"lc":"r"},
      {"i":81,"u":0.402,"uc":"g","l":-0.213,"lc":"r"},{"i":82,"u":0.382,"uc":"r","l":-0.182,"lc":"r"},{"i":83,"u":0.361,"uc":"r","l":-0.141,"lc":"r"},
      {"i":84,"u":0.33,"uc":"r","l":-0.089,"lc":"r"},{"i":85,"u":0.289,"uc":"r","l":-0.058,"lc":"r"},{"i":86,"u":0.248,"uc":"r","l":-0.069,"lc":"g"},
      {"i":87,"u":0.217,"uc":"r","l":-0.089,"lc":"g"},{"i":88,"u":0.206,"uc":"r","l":-0.058,"lc":"r"},{"i":89,"u":0.206,"uc":"g","l":-0.017,"lc":"r"},
      {"i":90,"u":0.196,"uc":"g","l":-0.089,"lc":"g"},{"i":91,"u":0.144,"uc":"r","l":-0.151,"lc":"g"},{"i":92,"u":0.083,"uc":"r","l":-0.213,"lc":"g"},
      {"i":93,"u":0.01,"uc":"r","l":-0.254,"lc":"g"},{"i":94,"u":0.041,"uc":"g","l":-0.285,"lc":"g"},{"i":95,"u":0.103,"uc":"g","l":-0.265,"lc":"r"},
      {"i":96,"u":0.144,"uc":"g","l":-0.234,"lc":"r"},{"i":97,"u":0.165,"uc":"g","l":-0.223,"lc":"r"},{"i":98,"u":0.165,"uc":"g","l":-0.182,"lc":"r"},
      {"i":99,"u":0.155,"uc":"r","l":-0.151,"lc":"r"},{"i":100,"u":0.144,"uc":"r","l":-0.141,"lc":"r"},{"i":101,"u":0.134,"uc":"r","l":-0.11,"lc":"r"},
      {"i":102,"u":0.124,"uc":"r","l":-0.079,"lc":"r"},{"i":103,"u":0.113,"uc":"r","l":-0.058,"lc":"r"},{"i":104,"u":0.103,"uc":"r","l":-0.028,"lc":"g"},
      {"i":105,"u":0.083,"uc":"r","l":-0.028,"lc":"g"},{"i":106,"u":0.052,"uc":"r","l":-0.069,"lc":"g"},{"i":107,"u":0.021,"uc":"r","l":-0.131,"lc":"g"},
      {"i":108,"u":0.01,"uc":"r","l":-0.172,"lc":"g"},{"i":109,"u":0.052,"uc":"g","l":-0.172,"lc":"g"},{"i":110,"u":0.103,"uc":"g","l":-0.1,"lc":"r"},
      {"i":111,"u":0.124,"uc":"g","l":-0.028,"lc":"r"},{"i":112,"u":0.124,"uc":"g","l":-0.028,"lc":"r"},{"i":113,"u":0.093,"uc":"r","l":-0.005,"lc":"r"},
      {"i":114,"u":0.041,"uc":"r","l":-0.003,"lc":"g"},{"i":115,"u":0.01,"uc":"r","l":-0.028,"lc":"g"},{"i":116,"u":0.003,"uc":"g","l":-0.069,"lc":"g"},
      {"i":117,"u":0.021,"uc":"g","l":-0.1,"lc":"g"},{"i":118,"u":0.052,"uc":"g","l":-0.141,"lc":"g"},{"i":119,"u":0.083,"uc":"g","l":-0.141,"lc":"g"},
      {"i":120,"u":0.113,"uc":"g","l":-0.11,"lc":"r"},{"i":121,"u":0.124,"uc":"g","l":-0.1,"lc":"r"},{"i":122,"u":0.113,"uc":"r","l":-0.089,"lc":"r"},
      {"i":123,"u":0.113,"uc":"r","l":-0.089,"lc":"g"},{"i":124,"u":0.103,"uc":"r","l":-0.089,"lc":"r"},{"i":125,"u":0.103,"uc":"g","l":-0.058,"lc":"r"},
      {"i":126,"u":0.103,"uc":"r","l":-0.028,"lc":"g"},{"i":127,"u":0.083,"uc":"r","l":-0.038,"lc":"g"},{"i":128,"u":0.072,"uc":"r","l":-0.005,"lc":"r"},
      {"i":129,"u":0.062,"uc":"r","l":-0.058,"lc":"g"},{"i":130,"u":0.041,"uc":"r","l":-0.079,"lc":"g"},{"i":131,"u":0.01,"uc":"r","l":-0.089,"lc":"g"},
      {"i":132,"u":0.01,"uc":"g","l":-0.079,"lc":"r"},{"i":133,"u":0.031,"uc":"g","l":-0.048,"lc":"r"},{"i":134,"u":0.041,"uc":"g","l":-0.007,"lc":"g"},
      {"i":135,"u":0.021,"uc":"r","l":-0.048,"lc":"g"},{"i":136,"u":0.003,"uc":"g","l":-0.11,"lc":"g"},{"i":137,"u":0.031,"uc":"g","l":-0.182,"lc":"g"},
      {"i":138,"u":0.083,"uc":"g","l":-0.203,"lc":"g"},{"i":139,"u":0.144,"uc":"g","l":-0.192,"lc":"r"},{"i":140,"u":0.175,"uc":"g","l":-0.162,"lc":"r"},
      {"i":141,"u":0.186,"uc":"g","l":null,"lc":"r"},{"i":142,"u":0.1777,"uc":"r","l":null,"lc":"r"}
    ]
  },
  "vconcat": [
    {
      "width": 1225,
      "height": 470,
      "resolve": {"axis": {"x": "independent", "y": "independent"}},
      "layer": [
        {
          "data": {"name": "candles"},
          "mark": {"type": "rule", "color": "black", "strokeWidth": 1},
          "encoding": {
            "x": {"field": "i", "type": "quantitative", "title": null, "scale": {"domain": [-0.125, 153], "nice": false, "zero": false},
              "axis": {"values": [4,8,12,16,20,24,28,32,36,40,44,48,52,56,60,64,68,72,76,80,84,88,92,96,100,104,108,112,116,120,124,128,132,136,140,144,148,152], "labels": false, "ticks": false, "domain": false, "grid": true}},
            "y": {"field": "l", "type": "quantitative", "title": null, "scale": {"domain": [148.134, 151.165], "nice": false, "zero": false},
              "axis": {"orient": "right", "values": [148.34,148.55,148.76,148.97,149.18,149.39,149.6,149.81,150.02,150.23,150.44,150.65,150.86,151.07], "format": ".3f", "domain": false, "tickSize": 4, "labelPadding": 3, "labelOverlap": false, "grid": true}},
            "y2": {"field": "h"}
          }
        },
        {
          "data": {"name": "candles"},
          "mark": {"type": "bar", "size": 4, "stroke": "black", "strokeWidth": 1},
          "encoding": {
            "x": {"field": "i", "type": "quantitative", "axis": null, "scale": {"domain": [-0.125, 153], "nice": false, "zero": false}},
            "y": {"field": "o", "type": "quantitative", "axis": null, "scale": {"domain": [148.134, 151.165], "nice": false, "zero": false}},
            "y2": {"field": "c"},
            "fill": {"condition": {"test": "datum.c > datum.o", "value": "white"}, "value": "black"}
          }
        },
        {
          "data": {"name": "alligator"},
          "transform": [{"filter": "datum.s === 'jaw'"}],
          "mark": {"type": "line", "color": "#1a4fd6", "strokeWidth": 2, "interpolate": "monotone"},
          "encoding": {
            "x": {"field": "i", "type": "quantitative", "axis": null, "scale": {"domain": [-0.125, 153], "nice": false, "zero": false}},
            "y": {"field": "v", "type": "quantitative", "axis": null, "scale": {"domain": [148.134, 151.165], "nice": false, "zero": false}}
          }
        },
        {
          "data": {"name": "alligator"},
          "transform": [{"filter": "datum.s === 'teeth'"}],
          "mark": {"type": "line", "color": "#f01010", "strokeWidth": 2, "interpolate": "monotone"},
          "encoding": {
            "x": {"field": "i", "type": "quantitative", "axis": null, "scale": {"domain": [-0.125, 153], "nice": false, "zero": false}},
            "y": {"field": "v", "type": "quantitative", "axis": null, "scale": {"domain": [148.134, 151.165], "nice": false, "zero": false}}
          }
        },
        {
          "data": {"name": "alligator"},
          "transform": [{"filter": "datum.s === 'lips'"}],
          "mark": {"type": "line", "color": "#1fe61f", "strokeWidth": 2, "interpolate": "monotone"},
          "encoding": {
            "x": {"field": "i", "type": "quantitative", "axis": null, "scale": {"domain": [-0.125, 153], "nice": false, "zero": false}},
            "y": {"field": "v", "type": "quantitative", "axis": null, "scale": {"domain": [148.134, 151.165], "nice": false, "zero": false}}
          }
        },
        {
          "data": {"name": "fractals"},
          "transform": [{"filter": "datum.d === 'up'"}],
          "mark": {"type": "point", "shape": "M0,-1L0.85,0.9L0,0.4L-0.85,0.9Z", "filled": true, "fill": "#a6a6a6", "stroke": "#808080", "strokeWidth": 0.6, "opacity": 1, "size": 120, "yOffset": -9, "clip": true},
          "encoding": {
            "x": {"field": "i", "type": "quantitative", "axis": null, "scale": {"domain": [-0.125, 153], "nice": false, "zero": false}},
            "y": {"field": "p", "type": "quantitative", "axis": null, "scale": {"domain": [148.134, 151.165], "nice": false, "zero": false}}
          }
        },
        {
          "data": {"name": "fractals"},
          "transform": [{"filter": "datum.d === 'down'"}],
          "mark": {"type": "point", "shape": "M0,1L0.85,-0.9L0,-0.4L-0.85,-0.9Z", "filled": true, "fill": "#a6a6a6", "stroke": "#808080", "strokeWidth": 0.6, "opacity": 1, "size": 120, "yOffset": 8, "clip": true},
          "encoding": {
            "x": {"field": "i", "type": "quantitative", "axis": null, "scale": {"domain": [-0.125, 153], "nice": false, "zero": false}},
            "y": {"field": "p", "type": "quantitative", "axis": null, "scale": {"domain": [148.134, 151.165], "nice": false, "zero": false}}
          }
        },
        {
          "data": {"values": [{"i": 139, "p": 150.886}]},
          "mark": {"type": "point", "shape": "M0,-1L0.9,0.05L0.42,0.05L0.42,1L-0.42,1L-0.42,0.05L-0.9,0.05Z", "filled": true, "fill": "#eefadc", "stroke": "#52cc28", "strokeWidth": 1.5, "opacity": 1, "size": 361},
          "encoding": {
            "x": {"field": "i", "type": "quantitative", "axis": null, "scale": {"domain": [-0.125, 153], "nice": false, "zero": false}},
            "y": {"field": "p", "type": "quantitative", "axis": null, "scale": {"domain": [148.134, 151.165], "nice": false, "zero": false}}
          }
        },
        {
          "data": {"values": [{"p": 150.78}]},
          "mark": {"type": "rule", "color": "#e01010", "strokeWidth": 1},
          "encoding": {
            "y": {"field": "p", "type": "quantitative", "axis": null, "scale": {"domain": [148.134, 151.165], "nice": false, "zero": false}}
          }
        },
        {
          "data": {"values": [{"x1": 153.34, "x2": 158.96, "y1": 150.748, "y2": 150.812}]},
          "mark": {"type": "rect", "color": "#cc0000"},
          "encoding": {
            "x": {"field": "x1", "type": "quantitative", "axis": null, "scale": {"domain": [-0.125, 153], "nice": false, "zero": false}},
            "x2": {"field": "x2"},
            "y": {"field": "y1", "type": "quantitative", "axis": null, "scale": {"domain": [148.134, 151.165], "nice": false, "zero": false}},
            "y2": {"field": "y2"}
          }
        },
        {
          "data": {"values": [{"x": 153.7, "p": 150.78, "t": "150.780"}]},
          "mark": {"type": "text", "color": "white", "align": "left", "baseline": "middle", "fontSize": 9.5, "font": "DejaVu Sans Condensed, DejaVu Sans"},
          "encoding": {
            "x": {"field": "x", "type": "quantitative", "axis": null, "scale": {"domain": [-0.125, 153], "nice": false, "zero": false}},
            "y": {"field": "p", "type": "quantitative", "axis": null, "scale": {"domain": [148.134, 151.165], "nice": false, "zero": false}},
            "text": {"field": "t"}
          }
        }
      ]
    },
    {
      "width": 1225,
      "height": 100,
      "resolve": {"axis": {"x": "independent", "y": "independent"}},
      "layer": [
        {
          "data": {"name": "ao"},
          "mark": {"type": "bar", "size": 4},
          "encoding": {
            "x": {"field": "i", "type": "quantitative", "title": null, "scale": {"domain": [-0.125, 153], "nice": false, "zero": false},
              "axis": {"values": [4,8,12,16,20,24,28,32,36,40,44,48,52,56,60,64,68,72,76,80,84,88,92,96,100,104,108,112,116,120,124,128,132,136,140,144,148,152], "labels": false, "ticks": false, "domain": false, "grid": true}},
            "y": {"field": "v", "type": "quantitative", "title": null, "stack": null, "scale": {"domain": [-1.1238, 1.1425], "nice": false},
              "axis": {"orient": "right", "values": [-1.1238, 0, 1.1425], "format": ".4f", "domain": false, "tickSize": 4, "labelPadding": 3, "labelFlush": true, "labelOverlap": false, "grid": true,
                "gridOpacity": {"condition": {"test": "datum.value === 0", "value": 1}, "value": 0}}},
            "y2": {"datum": 0},
            "color": {"field": "c", "type": "nominal", "legend": null, "scale": {"domain": ["g", "r"], "range": ["#008000", "#ff0000"]}}
          }
        },
        {
          "data": {"values": [{"t": "AOcust 0.3942", "x": -0.125, "y": 1.1425}]},
          "mark": {"type": "text", "align": "left", "baseline": "top", "dx": 5, "dy": 4, "fontSize": 9.5, "color": "black"},
          "encoding": {
            "x": {"field": "x", "type": "quantitative", "axis": null, "scale": {"domain": [-0.125, 153], "nice": false, "zero": false}},
            "y": {"field": "y", "type": "quantitative", "axis": null, "scale": {"domain": [-1.1238, 1.1425], "nice": false}},
            "text": {"field": "t"}
          }
        }
      ]
    },
    {
      "width": 1225,
      "height": 100,
      "resolve": {"axis": {"x": "independent", "y": "independent"}},
      "layer": [
        {
          "data": {"name": "ac"},
          "mark": {"type": "bar", "size": 4},
          "encoding": {
            "x": {"field": "i", "type": "quantitative", "title": null, "scale": {"domain": [-0.125, 153], "nice": false, "zero": false},
              "axis": {"values": [4,8,12,16,20,24,28,32,36,40,44,48,52,56,60,64,68,72,76,80,84,88,92,96,100,104,108,112,116,120,124,128,132,136,140,144,148,152], "labels": false, "ticks": false, "domain": false, "grid": true}},
            "y": {"field": "v", "type": "quantitative", "title": null, "stack": null, "scale": {"domain": [-0.48983, 0.35648], "nice": false},
              "axis": {"orient": "right", "values": [-0.48983, 0, 0.35648], "format": ".5f", "domain": false, "tickSize": 4, "labelPadding": 3, "labelFlush": true, "labelOverlap": false, "grid": true,
                "gridOpacity": {"condition": {"test": "datum.value === 0", "value": 1}, "value": 0}}},
            "y2": {"datum": 0},
            "color": {"field": "c", "type": "nominal", "legend": null, "scale": {"domain": ["g", "r"], "range": ["#008000", "#ff0000"]}}
          }
        },
        {
          "data": {"values": [{"t": "ACcust 0.13104", "x": -0.125, "y": 0.35648}]},
          "mark": {"type": "text", "align": "left", "baseline": "top", "dx": 5, "dy": 4, "fontSize": 9.5, "color": "black"},
          "encoding": {
            "x": {"field": "x", "type": "quantitative", "axis": null, "scale": {"domain": [-0.125, 153], "nice": false, "zero": false}},
            "y": {"field": "y", "type": "quantitative", "axis": null, "scale": {"domain": [-0.48983, 0.35648], "nice": false}},
            "text": {"field": "t"}
          }
        }
      ]
    },
    {
      "width": 1225,
      "height": 100,
      "resolve": {"axis": {"x": "independent", "y": "independent"}},
      "layer": [
        {
          "data": {"name": "gator"},
          "mark": {"type": "bar", "size": 4},
          "encoding": {
            "x": {"field": "i", "type": "quantitative", "title": null, "scale": {"domain": [-0.125, 153], "nice": false, "zero": false},
              "axis": {"values": [0,4,8,12,16,20,24,28,32,36,40,44,48,52,56,60,64,68,72,76,80,84,88,92,96,100,104,108,112,116,120,124,128,132,136,140,144,148,152],
                "labels": true, "ticks": true, "domain": false, "grid": true, "tickSize": 3, "tickColor": "black",
                "tickOpacity": {"condition": {"test": "datum.value % 8 === 0 && datum.value <= 136", "value": 1}, "value": 0},
                "gridOpacity": {"condition": {"test": "datum.value === 0", "value": 0}, "value": 1},
                "labelAlign": "left", "labelBaseline": "top", "labelPadding": 2, "labelOverlap": false, "labelBound": false, "labelFlush": false,
                "labelExpr": "(datum.value % 8 === 0 && datum.value <= 136) ? ['19 Mar 2025','20 Mar 05:00','20 Mar 13:00','20 Mar 21:00','21 Mar 05:00','21 Mar 13:00','21 Mar 21:00','24 Mar 06:00','24 Mar 14:00','24 Mar 22:00','25 Mar 06:00','25 Mar 14:00','25 Mar 22:00','26 Mar 06:00','26 Mar 14:00','26 Mar 22:00','27 Mar 06:00','27 Mar 14:00'][datum.value / 8] : ''"}},
            "y": {"field": "u", "type": "quantitative", "title": null, "stack": null, "scale": {"domain": [-0.5209, 0.5105], "nice": false},
              "axis": {"orient": "right", "values": [-0.5209, 0, 0.5105], "format": ".4f", "domain": false, "tickSize": 4, "labelPadding": 3, "labelFlush": true, "labelOverlap": false, "grid": true,
                "gridOpacity": {"condition": {"test": "datum.value === 0", "value": 1}, "value": 0}}},
            "y2": {"datum": 0},
            "color": {"field": "uc", "type": "nominal", "legend": null, "scale": {"domain": ["g", "r"], "range": ["#008000", "#ff0000"]}}
          }
        },
        {
          "data": {"name": "gator"},
          "mark": {"type": "bar", "size": 4},
          "encoding": {
            "x": {"field": "i", "type": "quantitative", "axis": null, "scale": {"domain": [-0.125, 153], "nice": false, "zero": false}},
            "y": {"field": "l", "type": "quantitative", "axis": null, "stack": null, "scale": {"domain": [-0.5209, 0.5105], "nice": false}},
            "y2": {"datum": 0},
            "color": {"field": "lc", "type": "nominal", "legend": null, "scale": {"domain": ["g", "r"], "range": ["#008000", "#ff0000"]}}
          }
        },
        {
          "data": {"values": [{"t": "GatorCust 0.1777 -0.1587", "x": -0.125, "y": 0.5105}]},
          "mark": {"type": "text", "align": "left", "baseline": "top", "dx": 5, "dy": 4, "fontSize": 9.5, "color": "black"},
          "encoding": {
            "x": {"field": "x", "type": "quantitative", "axis": null, "scale": {"domain": [-0.125, 153], "nice": false, "zero": false}},
            "y": {"field": "y", "type": "quantitative", "axis": null, "scale": {"domain": [-0.5209, 0.5105], "nice": false}},
            "text": {"field": "t"}
          }
        }
      ]
    }
  ],
  "config": {
    "font": "DejaVu Sans Condensed, DejaVu Sans",
    "view": {"stroke": "black", "strokeWidth": 1, "fill": "white"},
    "text": {"font": "DejaVu Sans Condensed, DejaVu Sans"},
    "axis": {
      "labelFont": "DejaVu Sans Condensed, DejaVu Sans",
      "labelFontSize": 9.5,
      "labelColor": "black",
      "tickColor": "black",
      "gridColor": "#d6d6d6",
      "gridDash": [4, 3],
      "gridWidth": 1,
      "minExtent": 0
    }
  }
}
